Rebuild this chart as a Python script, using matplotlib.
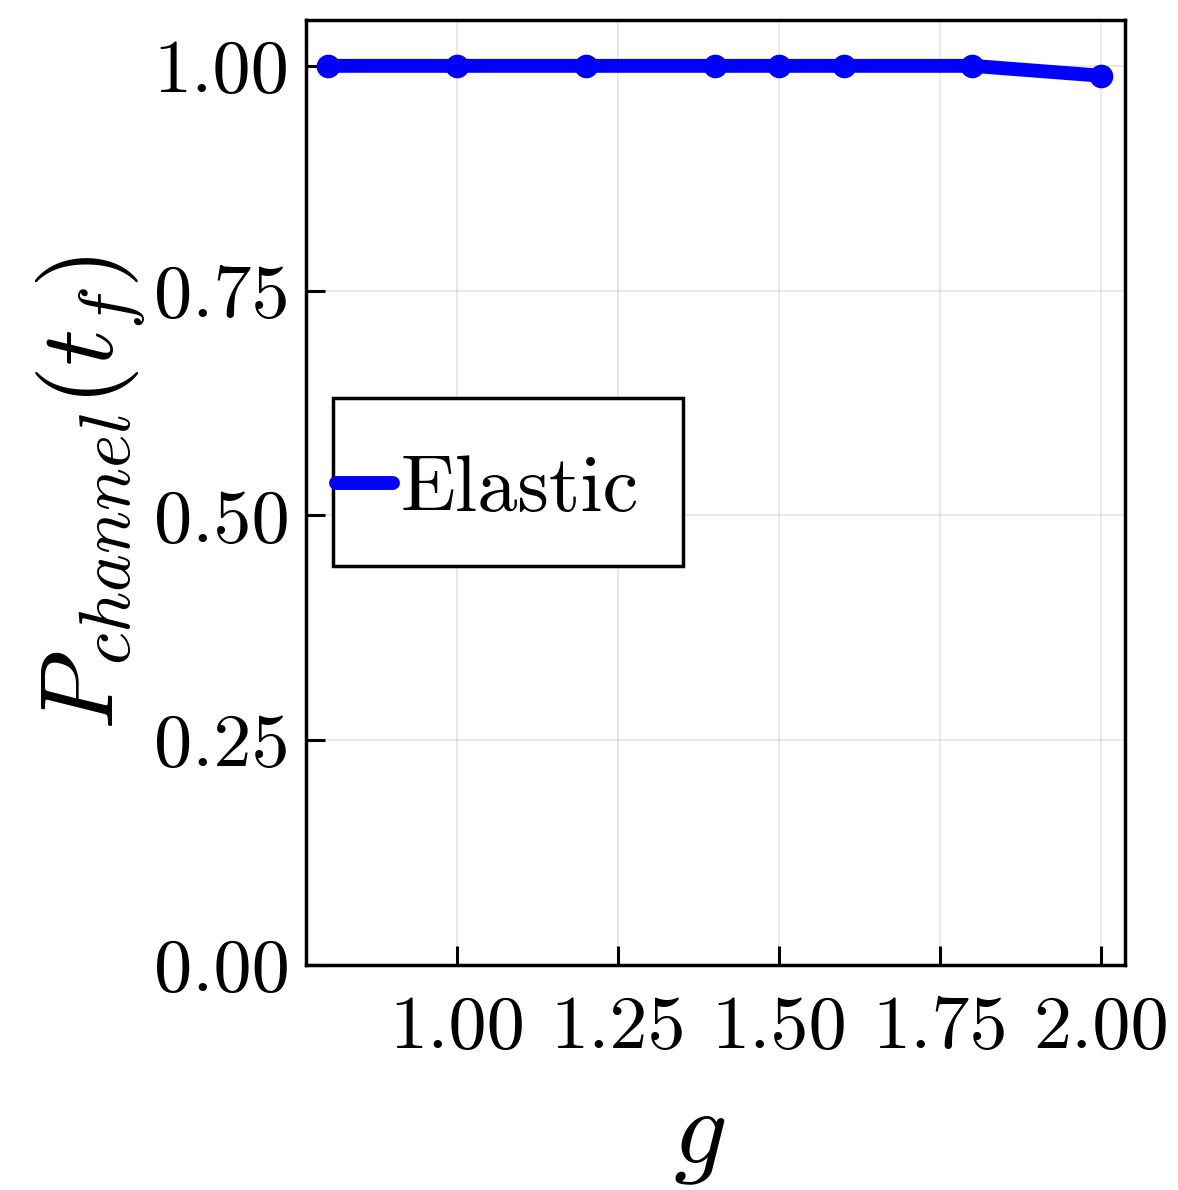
import matplotlib
matplotlib.use("Agg")
import matplotlib.pyplot as plt
from matplotlib.patches import Rectangle
from matplotlib.ticker import StrMethodFormatter

plt.rcParams["font.family"] = "serif"
plt.rcParams["font.serif"] = ["cmr10"]
plt.rcParams["mathtext.fontset"] = "cm"
plt.rcParams["axes.unicode_minus"] = False

g = [0.8, 1.0, 1.2, 1.4, 1.5, 1.6, 1.8, 2.0]
p_elastic = [1.0, 1.0, 1.0, 1.0, 1.0, 1.0, 1.0, 0.989]
xticks = [1.00, 1.25, 1.50, 1.75, 2.00]
yticks = [0.00, 0.25, 0.50, 0.75, 1.00]

fig = plt.figure(figsize=(11.78, 11.9), dpi=100)
ax = fig.add_axes([0.2598, 0.1891, 0.6953, 0.7941])

ax.plot(g, p_elastic, color="#0000ff", lw=10, marker="o", ms=16,
        solid_capstyle="round", label="Elastic")

ax.set_xlim(0.7655, 2.037)
ax.set_ylim(0, 1.051)
ax.set_xticks(xticks)
ax.set_yticks(yticks)
ax.xaxis.set_major_formatter(StrMethodFormatter("{x:.2f}"))
ax.yaxis.set_major_formatter(StrMethodFormatter("{x:.2f}"))
ax.grid(True, color="black", alpha=0.1, lw=1.2)
ax.tick_params(direction="in", length=14, width=2.2, labelsize=55)
ax.tick_params(axis="x", pad=22)
ax.tick_params(axis="y", pad=12)
for s in ax.spines.values():
    s.set_linewidth(2.5)

ax.set_xlabel(r"$g$", fontsize=76)
ax.xaxis.set_label_coords(0.48, -0.137)
ax.set_ylabel(r"$P_{channel}(t_f)$", fontsize=74, labelpad=4)

# legend box (Plots.jl style: handle starts at the frame edge)
ax.add_patch(Rectangle((0.033, 0.422), 0.427, 0.178, transform=ax.transAxes,
                       facecolor="white", edgecolor="black", lw=2.5, zorder=4))
leg = ax.legend(loc="center left", bbox_to_anchor=(0.037, 0.502), borderaxespad=0,
                fontsize=58, frameon=False, handlelength=0.7,
                handletextpad=0.1, borderpad=0)
leg.set_zorder(5)
for h in leg.legend_handles:
    h.set_marker("")

fig.savefig("out.png", dpi=100)
